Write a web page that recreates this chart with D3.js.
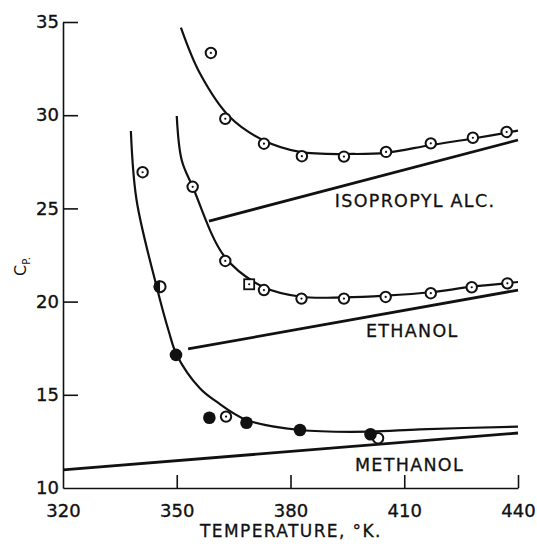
<!DOCTYPE html>
<html>
<head>
<meta charset="utf-8">
<script src="https://cdn.jsdelivr.net/npm/d3@7"></script>
<style>
  body { margin: 0; background: #fff; }
  text { font-family: "DejaVu Sans", sans-serif; fill: #111; }
</style>
</head>
<body>
<div id="chart"></div>
<script>
// axis ticks
var xTicks = [320, 350, 380, 410, 440];
var yTicks = [10, 15, 20, 25, 30, 35];

// smooth curves through measured Cp (T, Cp)
var isoCurve = [[351.1, 34.7], [356.1, 32.25], [364.0, 29.9], [372.7, 28.67], [382.5, 28.03],
  [396.5, 27.92], [405.2, 27.98], [417.0, 28.4], [428.1, 28.75], [440, 29.17]];
var ethCurve = [[350.0, 29.96], [351.3, 27.6], [354.2, 26.16], [362.7, 22.39], [372.7, 20.8],
  [382.9, 20.26], [394.1, 20.23], [405.1, 20.32], [417.0, 20.5], [427.8, 20.8], [440, 21.05]];
var methCurve = [[337.9, 29.15], [339.4, 25.45], [344.7, 20.8], [347.95, 18.37], [350.0, 17.14],
  [356.1, 15.35], [360.5, 14.63], [368.4, 13.65], [382.5, 13.11], [401.1, 13.02],
  [414.1, 13.15], [440, 13.29]];

// ideal gas lines
var isoIdeal = [[358.5, 24.32], [440, 28.67]];
var ethIdeal = [[353.0, 17.46], [440, 20.62]];
var methIdeal = [[320, 10.97], [440, 12.95]];

// experimental points
var isoPts = [[359.0, 33.34], [362.8, 29.81], [373.0, 28.47], [383.0, 27.8], [394.1, 27.78],
  [405.2, 28.03], [417.0, 28.49], [428.1, 28.79], [437.0, 29.1]];
var ethPts = [[354.2, 26.16], [362.8, 22.18], [373.0, 20.62], [382.9, 20.16], [394.1, 20.16],
  [405.1, 20.25], [417.0, 20.45], [427.8, 20.77], [437.2, 20.98]];
var ethSquare = [[369.1, 20.93]];
var methOpen = [[341.0, 26.94], [363.0, 13.83]];
var methHalf = [[345.6, 20.8]];
var methFilled = [[349.8, 17.14], [358.6, 13.77], [368.4, 13.5], [382.5, 13.11], [401.1, 12.88]];
var methHidden = [[403.1, 12.67]];

var labels = ["ISOPROPYL ALC.", "ETHANOL", "METHANOL"];

var svgWidth = 537;
var svgHeight = 549;
var margin = { top: 22, right: 19, bottom: 61, left: 63 };
var width = svgWidth - margin.left - margin.right;
var height = svgHeight - margin.top - margin.bottom;

var svg = d3.select("#chart")
  .append("svg")
  .attr("width", svgWidth)
  .attr("height", svgHeight);
var chart = svg.append("g")
  .attr("transform", `translate(${margin.left}, ${margin.top})`);

var x = d3.scaleLinear().domain([320, 440]).range([0, width]);
var y = d3.scaleLinear().domain([10, 35]).range([height, 0]);

// axes: ticks point inward, no domain end caps
var bottomAxis = d3.axisBottom(x).tickValues(xTicks).tickSizeInner(-13).tickSizeOuter(0).tickPadding(16);
var leftAxis = d3.axisLeft(y).tickValues(yTicks).tickSizeInner(-15).tickSizeOuter(0).tickPadding(4);

var gx = chart.append("g")
  .attr("transform", `translate(0,${height})`)
  .call(bottomAxis);
var gy = chart.append("g").call(leftAxis);
[gx, gy].forEach(g => {
  g.selectAll("path, line").attr("stroke", "#111").attr("stroke-width", 1.6);
  g.selectAll("text").attr("font-size", "18px").attr("fill", "#111")
    .attr("stroke", "#111").attr("stroke-width", 0.35)
    .attr("font-family", "DejaVu Sans, sans-serif");
});
gx.selectAll(".tick").filter(d => d == 320).select("line").remove();
gy.selectAll(".tick").filter(d => d == 10).select("line").remove();

var line = d3.line().x(d => x(d[0])).y(d => y(d[1]));
var smooth = d3.line().x(d => x(d[0])).y(d => y(d[1])).curve(d3.curveCatmullRom.alpha(0.5));

[isoIdeal, ethIdeal, methIdeal].forEach(d => {
  chart.append("path").attr("d", line(d)).attr("fill", "none")
    .attr("stroke", "#111").attr("stroke-width", 2.8);
});
[isoCurve, ethCurve, methCurve].forEach(d => {
  chart.append("path").attr("d", smooth(d)).attr("fill", "none")
    .attr("stroke", "#111").attr("stroke-width", 2.2);
});

// dotted open circles
function openCircles(data, dot) {
  var g = chart.append("g").selectAll("g").data(data).enter().append("g")
    .attr("transform", d => `translate(${x(d[0])},${y(d[1])})`);
  g.append("circle").attr("r", 5.2).attr("fill", "#fff").attr("stroke", "#111").attr("stroke-width", 2);
  if (dot) g.append("circle").attr("r", 1.1).attr("fill", "#111");
}
openCircles(isoPts, true);
openCircles(ethPts, true);
openCircles(methHidden, false);
openCircles(methOpen, true);

var sq = chart.append("g").selectAll("g").data(ethSquare).enter().append("g")
  .attr("transform", d => `translate(${x(d[0])},${y(d[1])})`);
sq.append("rect").attr("x", -5).attr("y", -5).attr("width", 10).attr("height", 10)
  .attr("fill", "#fff").attr("stroke", "#111").attr("stroke-width", 1.8);
sq.append("circle").attr("r", 1.1).attr("fill", "#111");

// half filled marker
var half = chart.append("g").selectAll("g").data(methHalf).enter().append("g")
  .attr("transform", d => `translate(${x(d[0])},${y(d[1])})`);
half.append("circle").attr("r", 5.5).attr("fill", "#fff").attr("stroke", "#111").attr("stroke-width", 2);
half.append("path").attr("d", "M0,-6.5A6.5,6.5 0 0 0 0,6.5Z").attr("fill", "#111");

chart.append("g").selectAll("circle").data(methFilled).enter().append("circle")
  .attr("cx", d => x(d[0]))
  .attr("cy", d => y(d[1]))
  .attr("r", 6.3)
  .attr("fill", "#111");

// curve names
var labelPos = [[391.7, 25.07], [399.9, 18.12], [397.0, 10.9]];
chart.append("g").selectAll("text").data(labels).enter().append("text")
  .attr("x", (d, i) => x(labelPos[i][0]))
  .attr("y", (d, i) => y(labelPos[i][1]))
  .attr("font-size", "17.5px")
  .attr("letter-spacing", "1.3px")
  .attr("stroke", "#111").attr("stroke-width", 0.3)
  .text(d => d);

// axis titles
svg.append("text")
  .attr("x", 200)
  .attr("y", 537)
  .attr("font-size", "17px")
  .attr("letter-spacing", "1.4px")
  .attr("stroke", "#111").attr("stroke-width", 0.3)
  .text("TEMPERATURE, °K.");

var yTitle = svg.append("text")
  .attr("transform", "translate(26,276) rotate(-90)")
  .attr("font-size", "16px");
yTitle.append("tspan").text("C");
yTitle.append("tspan").attr("font-size", "10px").attr("dy", "4").text("P.");
</script>
</body>
</html>
